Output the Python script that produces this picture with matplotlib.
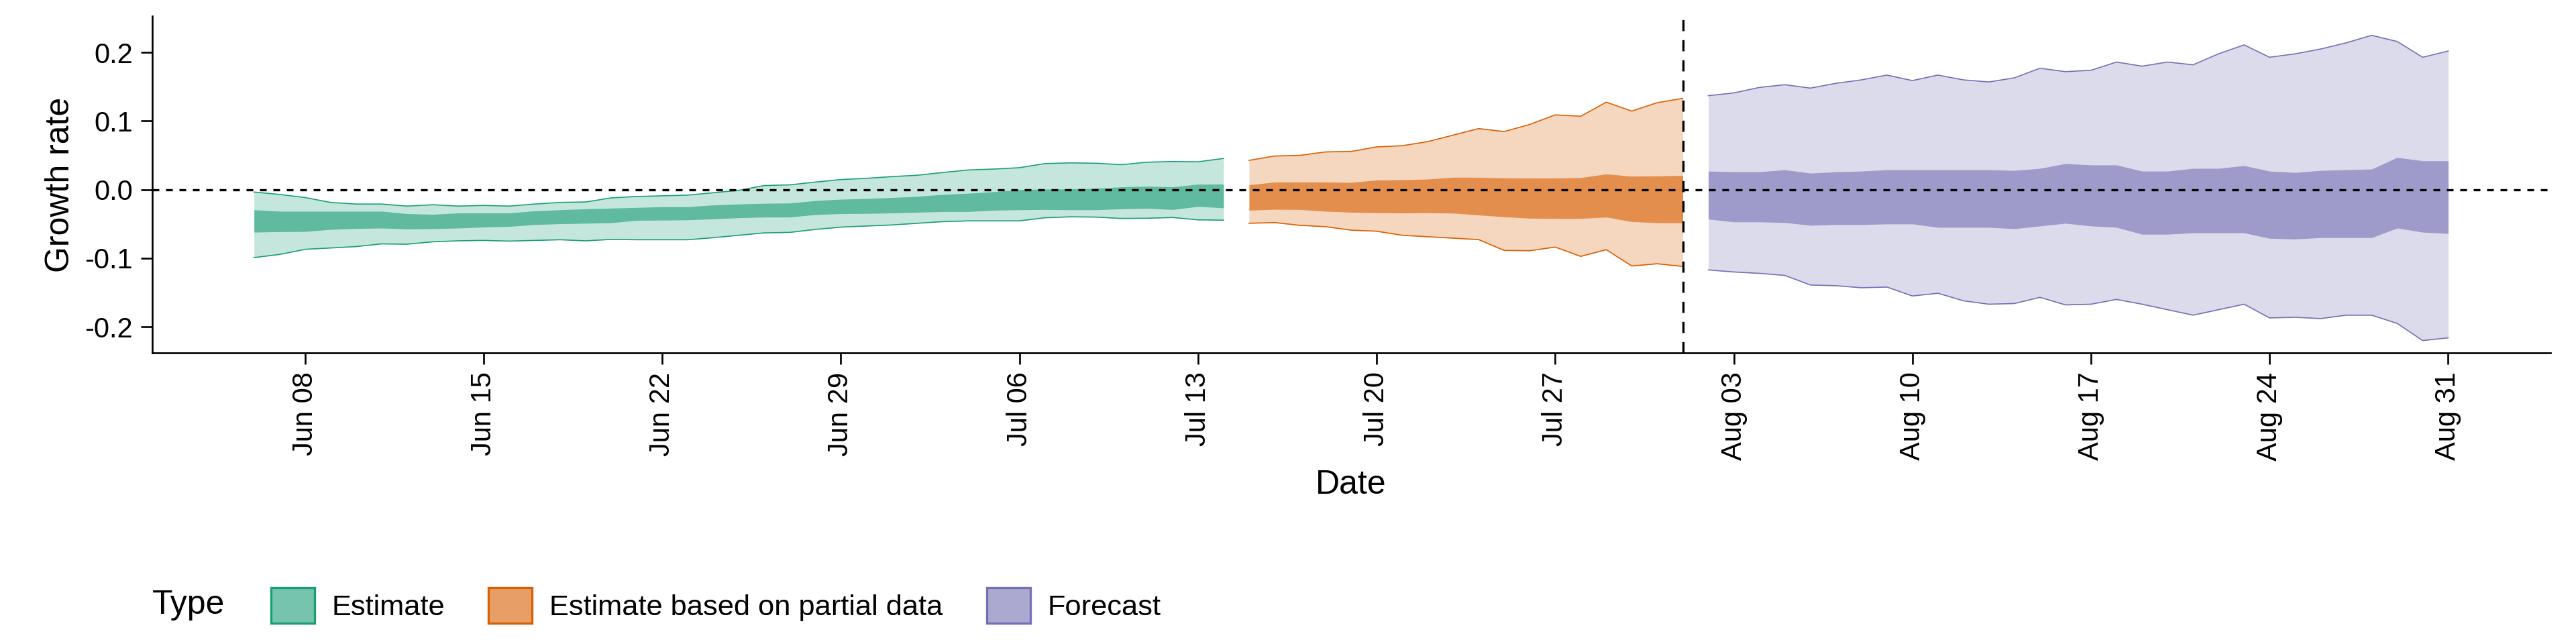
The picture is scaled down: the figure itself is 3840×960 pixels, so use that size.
import numpy as np
import pandas as pd
import matplotlib.pyplot as plt
from matplotlib.patches import Patch
from matplotlib.colors import to_rgba

plt.rcParams['font.family'] = ['Liberation Sans', 'DejaVu Sans']

# Estimate (Jun 06 - Jul 14)
est_dates = pd.date_range("2020-06-06", "2020-07-14")
est_lo90 = [-0.099, -0.0945, -0.087, -0.085, -0.083, -0.079, -0.0795, -0.076, -0.0746, -0.074,
            -0.075, -0.074, -0.073, -0.0746, -0.0725, -0.073, -0.073, -0.073, -0.070, -0.0665,
            -0.063, -0.0623, -0.058, -0.0546, -0.053, -0.0515, -0.049, -0.0466, -0.0455, -0.0455,
            -0.0455, -0.041, -0.0396, -0.040, -0.042, -0.0417, -0.0406, -0.044, -0.0445]
est_lo50 = [-0.062, -0.0613, -0.061, -0.058, -0.0567, -0.056, -0.0574, -0.057, -0.056, -0.0546,
            -0.0536, -0.051, -0.0497, -0.049, -0.0483, -0.0448, -0.0445, -0.044, -0.0427, -0.041,
            -0.040, -0.040, -0.0364, -0.035, -0.0347, -0.034, -0.033, -0.032, -0.032, -0.030,
            -0.0294, -0.029, -0.0294, -0.0294, -0.028, -0.0273, -0.029, -0.0245, -0.0266]
est_hi50 = [-0.0294, -0.0315, -0.0315, -0.0315, -0.0315, -0.0315, -0.035, -0.036, -0.034, -0.034,
            -0.034, -0.031, -0.0294, -0.028, -0.027, -0.026, -0.025, -0.025, -0.0224, -0.021,
            -0.020, -0.0196, -0.016, -0.014, -0.013, -0.0116, -0.0098, -0.007, -0.0053, -0.003,
            0.0, 0.0007, 0.001, 0.002, 0.004, 0.005, 0.004, 0.008, 0.008]
est_hi90 = [-0.0035, -0.007, -0.0115, -0.0186, -0.021, -0.021, -0.024, -0.022, -0.024, -0.023,
            -0.024, -0.021, -0.0186, -0.018, -0.012, -0.010, -0.009, -0.008, -0.0045, -0.001,
            0.006, 0.007, 0.011, 0.0147, 0.0165, 0.019, 0.021, 0.025, 0.0287, 0.030,
            0.032, 0.038, 0.039, 0.0385, 0.0364, 0.040, 0.041, 0.0406, 0.0455]

# Estimate based on partial data (Jul 15 - Aug 01)
par_dates = pd.date_range("2020-07-15", "2020-08-01")
par_lo90 = [-0.049, -0.048, -0.052, -0.054, -0.059, -0.0606, -0.0665, -0.0686, -0.0707, -0.0728,
            -0.0886, -0.089, -0.0837, -0.0973, -0.0875, -0.1113, -0.108, -0.112]
par_lo50 = [-0.030, -0.0287, -0.029, -0.0315, -0.033, -0.0336, -0.034, -0.0336, -0.0343, -0.037,
            -0.0396, -0.0417, -0.042, -0.042, -0.040, -0.0466, -0.0483, -0.0483]
par_hi50 = [0.007, 0.011, 0.011, 0.011, 0.0105, 0.014, 0.0144, 0.0154, 0.018, 0.0179,
            0.017, 0.0168, 0.0168, 0.0175, 0.0228, 0.0196, 0.020, 0.0207]
par_hi90 = [0.0427, 0.049, 0.050, 0.055, 0.0557, 0.0623, 0.064, 0.070, 0.0795, 0.089,
            0.0847, 0.095, 0.109, 0.107, 0.1275, 0.1145, 0.1268, 0.133]

# Forecast (Aug 02 - Aug 31)
fc_dates = pd.date_range("2020-08-02", "2020-08-31")
fc_lo90 = [-0.117, -0.120, -0.122, -0.125, -0.139, -0.140, -0.143, -0.142, -0.155, -0.151,
           -0.162, -0.167, -0.166, -0.157, -0.168, -0.167, -0.160, -0.167, -0.175, -0.183,
           -0.175, -0.167, -0.187, -0.186, -0.188, -0.183, -0.183, -0.195, -0.220, -0.216]
fc_lo50 = [-0.043, -0.047, -0.047, -0.048, -0.052, -0.051, -0.051, -0.050, -0.050, -0.055,
           -0.055, -0.055, -0.057, -0.053, -0.049, -0.053, -0.055, -0.065, -0.065, -0.063,
           -0.063, -0.063, -0.071, -0.072, -0.070, -0.070, -0.070, -0.056, -0.062, -0.064]
fc_hi50 = [0.027, 0.026, 0.026, 0.029, 0.024, 0.026, 0.027, 0.029, 0.029, 0.029,
           0.029, 0.029, 0.028, 0.031, 0.038, 0.036, 0.036, 0.027, 0.027, 0.031,
           0.031, 0.035, 0.027, 0.025, 0.028, 0.029, 0.030, 0.047, 0.042, 0.042]
fc_hi90 = [0.137, 0.141, 0.149, 0.153, 0.148, 0.155, 0.160, 0.167, 0.159, 0.167,
           0.160, 0.157, 0.163, 0.177, 0.172, 0.174, 0.186, 0.180, 0.186, 0.182,
           0.198, 0.211, 0.193, 0.198, 0.205, 0.214, 0.225, 0.216, 0.193, 0.202]

types = ["Estimate", "Estimate based on partial data", "Forecast"]
colors = ["#1B9E77", "#D95F02", "#7570B3"]
series = [
    (est_dates, est_lo90, est_lo50, est_hi50, est_hi90),
    (par_dates, par_lo90, par_lo50, par_hi50, par_hi90),
    (fc_dates, fc_lo90, fc_lo50, fc_hi50, fc_hi90),
]
tick_dates = pd.date_range("2020-06-08", "2020-08-31", freq="7D")

fig = plt.figure(figsize=(16, 4), dpi=240)
ax = fig.add_axes([0.059, 0.452, 0.931, 0.523])

for (d, lo90, lo50, hi50, hi90), c in zip(series, colors):
    ax.fill_between(d, lo90, hi90, color=c, alpha=0.25, linewidth=0)
    ax.fill_between(d, lo50, hi50, color=c, alpha=0.6, linewidth=0)
    ax.plot(d, lo90, color=c, linewidth=0.5)
    ax.plot(d, hi90, color=c, linewidth=0.5)

ax.axhline(0, color="black", linestyle=(0, (3, 3)), linewidth=1)
ax.axvline(pd.Timestamp("2020-08-01"), color="black", linestyle=(0, (5, 4)), linewidth=1)

ax.set_xlim(pd.Timestamp("2020-06-02"), pd.Timestamp("2020-09-04"))
ax.set_ylim(-0.238, 0.253)
ax.set_xticks(tick_dates)
ax.set_xticklabels([t.strftime("%b %d") for t in tick_dates], rotation=90, fontsize=12.5)
ax.set_yticks([-0.2, -0.1, 0.0, 0.1, 0.2])
ax.set_yticklabels(["-0.2", "-0.1", "0.0", "0.1", "0.2"], fontsize=12.5)
ax.tick_params(length=5, colors="black")
ax.set_xlabel("Date", fontsize=15)
ax.set_ylabel("Growth rate", fontsize=15)
for s in ["top", "right"]:
    ax.spines[s].set_visible(False)

handles = [Patch(facecolor=to_rgba(c, 0.6), edgecolor=c, linewidth=1) for c in colors]
fig.text(0.059, 0.06, "Type", fontsize=15, va="center")
fig.legend(handles, types, loc="center left", bbox_to_anchor=(0.095, 0.06), ncol=3,
           frameon=False, fontsize=13, handlelength=1.5, handleheight=1.5, columnspacing=1.5,
           handletextpad=0.6)

fig.savefig("out.png")
